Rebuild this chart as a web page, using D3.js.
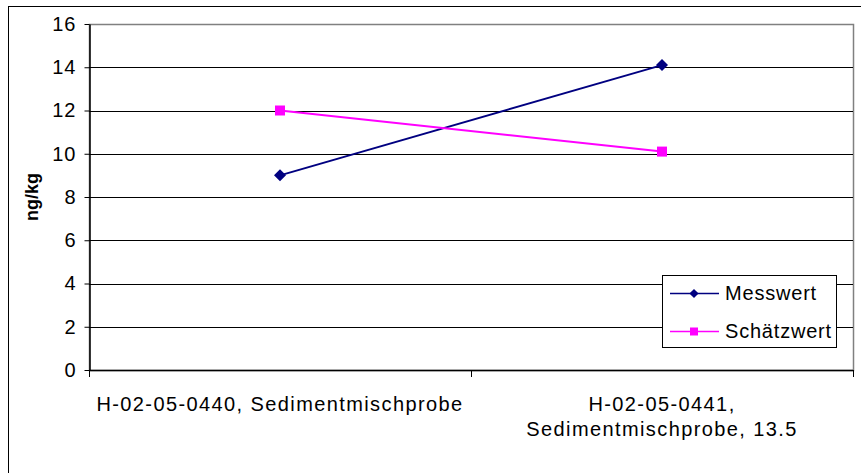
<!DOCTYPE html>
<html>
<head lang="en">
    <meta charset="UTF-8">
    <title></title>
    <style>
        body { margin: 0; background: #fff; }
        svg { font-family: "Liberation Sans", Arial, sans-serif; }
        .grid line { stroke: #000; stroke-width: 1; }
    </style>
</head>
<body>
<svg id="chart" width="861" height="473"></svg>
<script src="https://cdn.jsdelivr.net/npm/d3@7"></script>
<script>

    let categories = [["H-02-05-0440, Sedimentmischprobe"], ["H-02-05-0441,", "Sedimentmischprobe, 13.5"]];
    let messwert = [9, 14.1];
    let schaetzwert = [12, 10.1];
    let yTicks = [0, 2, 4, 6, 8, 10, 12, 14, 16];
    let seriesNames = ["Messwert", "Schätzwert"];
    let seriesColors = ["#000080", "#ff00ff"];

    let margin = {top: 24, left: 89, right: 8, bottom: 103};
    let width = 861 - margin.left - margin.right;
    let height = 473 - margin.top - margin.bottom;

    let svg = d3.select('#chart');

    // outer chart border
    svg.append('rect')
        .attr('x', 8.5).attr('y', 6.5)
        .attr('width', 870).attr('height', 480)
        .attr('fill', 'none').attr('stroke', '#000').attr('stroke-width', 1);

    let canvas = svg.append('g')
        .attr('transform', 'translate(' + margin.left + ',' + margin.top + ')');

    let x = d3.scaleBand()
        .domain(d3.range(categories.length))
        .range([0, width]);

    let y = d3.scaleLinear()
        .domain([0, 16])
        .range([height, 0]);

    // plot area border
    canvas.append('rect')
        .attr('x', 0.5).attr('y', 0.5)
        .attr('width', width).attr('height', height)
        .attr('fill', 'none').attr('stroke', '#808080').attr('stroke-width', 1.5);

    // gridlines
    canvas.append('g')
        .attr('class', 'grid')
        .selectAll('line')
        .data(yTicks.slice(1, -1))
        .enter().append('line')
        .attr('x1', 0).attr('x2', width)
        .attr('y1', d => Math.round(y(d)) + 0.5)
        .attr('y2', d => Math.round(y(d)) + 0.5);

    // y axis
    let yAxis = canvas.append('g')
        .attr('transform', 'translate(0.5,0)')
        .call(d3.axisLeft(y).tickValues(yTicks).tickSize(5).tickPadding(8).tickSizeOuter(0));
    yAxis.select('.domain').attr('stroke', '#000').attr('stroke-width', 1.5);
    yAxis.selectAll('.tick text')
        .attr('font-size', 20).attr('letter-spacing', 1)
        .attr('font-family', '"Liberation Sans", Arial, sans-serif')
        .attr('fill', '#000');

    // x axis
    let xTickPos = d3.range(categories.length + 1).map(i => i * x.step());
    let xAxis = canvas.append('g')
        .attr('transform', 'translate(0,' + height + ')');
    xAxis.append('line')
        .attr('x1', 0).attr('x2', width)
        .attr('y1', 0.5).attr('y2', 0.5)
        .attr('stroke', '#000').attr('stroke-width', 1.5);
    xAxis.selectAll('.xtick')
        .data(xTickPos)
        .enter().append('line')
        .attr('x1', d => Math.round(d) + 0.5).attr('x2', d => Math.round(d) + 0.5)
        .attr('y1', 0).attr('y2', 7)
        .attr('stroke', '#000');

    let catLabels = xAxis.selectAll('.cat')
        .data(categories)
        .enter().append('text')
        .attr('text-anchor', 'middle')
        .attr('font-size', 20)
        .attr('letter-spacing', 1.4)
        .attr('fill', '#000')
        .attr('transform', (d, i) => 'translate(' + (x(i) + x.bandwidth() / 2) + ',41)');
    catLabels.selectAll('tspan')
        .data(d => d)
        .enter().append('tspan')
        .attr('x', 0)
        .attr('y', (d, i) => i * 25)
        .text(d => d);

    // y title
    canvas.append('text')
        .attr('transform', 'translate(-51,' + (height / 2) + ') rotate(-90)')
        .attr('text-anchor', 'middle')
        .attr('font-size', 18)
        .attr('font-weight', 'bold')
        .text('ng/kg');

    let line = d3.line()
        .x((d, i) => x(i) + x.bandwidth() / 2)
        .y(d => y(d));

    let marker = (k, big) => k === 0
        ? d3.symbol().type(d3.symbolSquare).size(big ? 72 : 42)()
        : d3.symbol().type(d3.symbolSquare).size(big ? 100 : 64)();

    [messwert, schaetzwert].forEach((data, k) => {
        canvas.append('path')
            .datum(data)
            .attr('fill', 'none')
            .attr('stroke', seriesColors[k])
            .attr('stroke-width', 2)
            .attr('d', line);
        canvas.selectAll('.m' + k)
            .data(data)
            .enter().append('path')
            .attr('transform', (d, i) => 'translate(' + (x(i) + x.bandwidth() / 2) + ',' + y(d) + ')' + (k === 0 ? ' rotate(45)' : ''))
            .attr('d', marker(k, true))
            .attr('fill', seriesColors[k]);
    });

    // legend
    let legend = svg.append('g').attr('transform', 'translate(662,275)');
    legend.append('rect')
        .attr('x', 0.5).attr('y', 0.5)
        .attr('width', 174).attr('height', 72)
        .attr('fill', '#fff').attr('stroke', '#000');
    seriesNames.forEach((name, k) => {
        let row = legend.append('g').attr('transform', 'translate(0,' + (18 + k * 38) + ')');
        row.append('line')
            .attr('x1', 8).attr('x2', 57).attr('y1', 0.5).attr('y2', 0.5)
            .attr('stroke', seriesColors[k]).attr('stroke-width', 1.5);
        row.append('path')
            .attr('transform', 'translate(32,0.5)' + (k === 0 ? ' rotate(45)' : ''))
            .attr('d', marker(k, false))
            .attr('fill', seriesColors[k]);
        row.append('text')
            .attr('x', 63).attr('y', 7)
            .attr('font-size', 20)
            .attr('letter-spacing', 0.8)
            .text(name);
    });

</script>
</body>
</html>
